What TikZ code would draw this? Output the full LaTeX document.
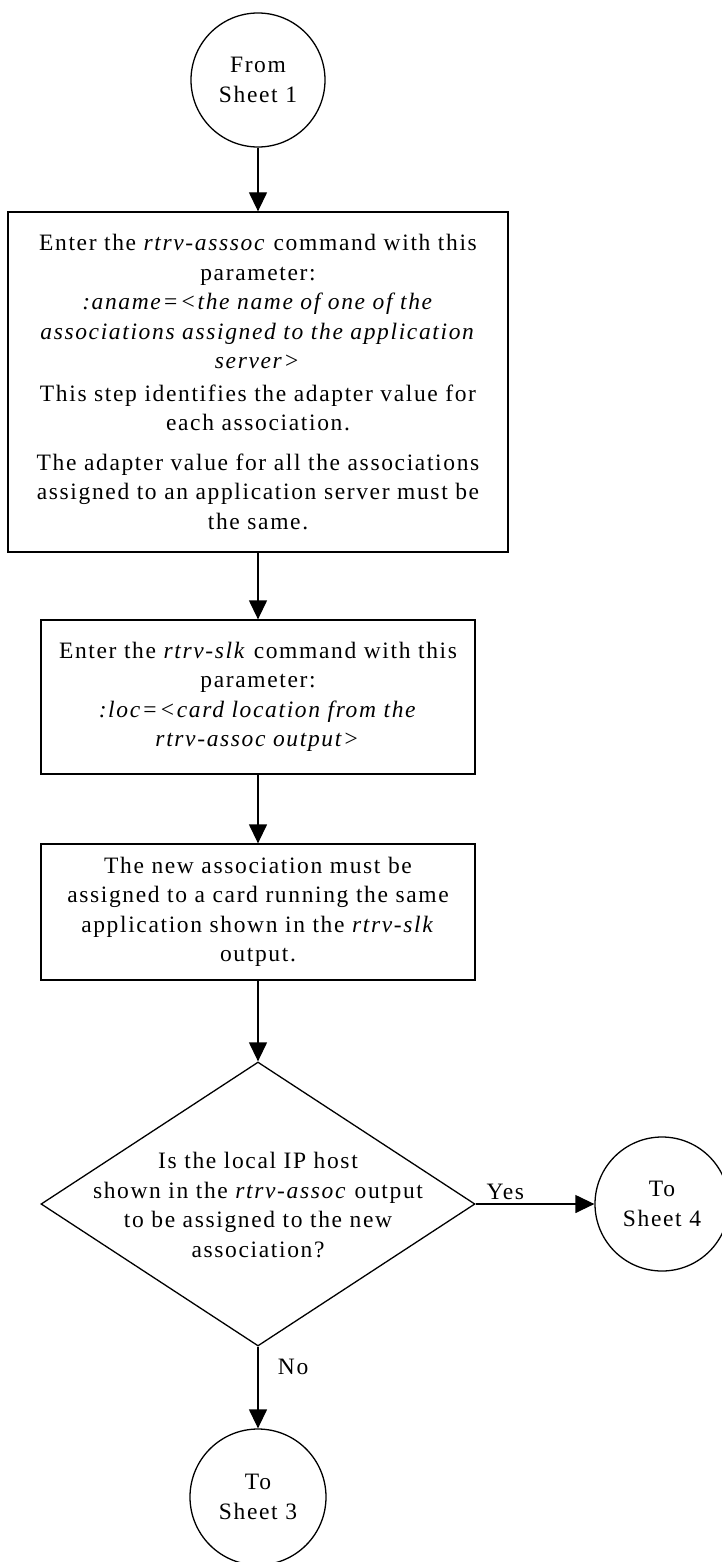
\documentclass[tikz,border=0pt]{standalone}
\usepackage{fontspec}
\setmainfont{Liberation Serif}[LetterSpace=7]
\usetikzlibrary{shapes.geometric,arrows.meta}
\begin{document}
\begin{tikzpicture}[x=1pt,y=-1pt,
  font=\fontsize{23.5}{29.5}\selectfont,
  line width=1.3pt,
  stepbox/.style={draw,rectangle,inner sep=0pt,align=center},
  conn/.style={draw,circle,inner sep=0pt,minimum size=134pt,align=center},
  arr/.style={-{Triangle[width=18pt,length=19pt]}}]
\useasboundingbox (0,0) rectangle (722,1562);
\node[conn] (from) at (258,80) {From\\Sheet 1};
\node[stepbox,minimum width=500pt,minimum height=340pt] (b1) at (258,382)
 {Enter the \textit{rtrv-asssoc} command with this\\
  parameter:\\
  \textit{:aname=<the name of one of the}\\
  \textit{associations assigned to the application}\\
  \textit{server>}\\[3pt]
  This step identifies the adapter value for\\
  each association.\\[10pt]
  The adapter value for all the associations\\
  assigned to an application server must be\\
  the same.};
\node[stepbox,minimum width=434pt,minimum height=154pt] (b2) at (258,697)
 {Enter the \textit{rtrv-slk} command with this\\
  parameter:\\
  \textit{:loc=<card location from the}\\
  \textit{rtrv-assoc output>}};
\node[stepbox,minimum width=434pt,minimum height=136pt] (b3) at (258,912)
 {The new association must be\\
  assigned to a card running the same\\
  application shown in the \textit{rtrv-slk}\\
  output.};
\node[draw,diamond,inner sep=0pt,minimum width=434pt,minimum height=284pt] (dec) at (258,1204) {};
\node[align=center,inner sep=0pt] (dect) at (258,1205)
 {Is the local IP host\\
  shown in the \textit{rtrv-assoc} output\\
  to be assigned to the new\\
  association?};
\node[conn] (s4) at (662,1204) {To\\Sheet 4};
\node[conn,minimum size=136pt] (s3) at (258,1497) {To\\Sheet 3};
\draw[arr] (from) -- (b1);
\draw[arr] (b1) -- (b2);
\draw[arr] (b2) -- (b3);
\draw[arr] (b3) -- (dec);
\draw[arr] (dec.east) -- node[above,pos=0.25] (yes) {Yes} (s4);
\draw[arr] (dec.south) -- node[anchor=west,pos=0.25,xshift=16pt] (no) {No} (s3);
\end{tikzpicture}
\end{document}
